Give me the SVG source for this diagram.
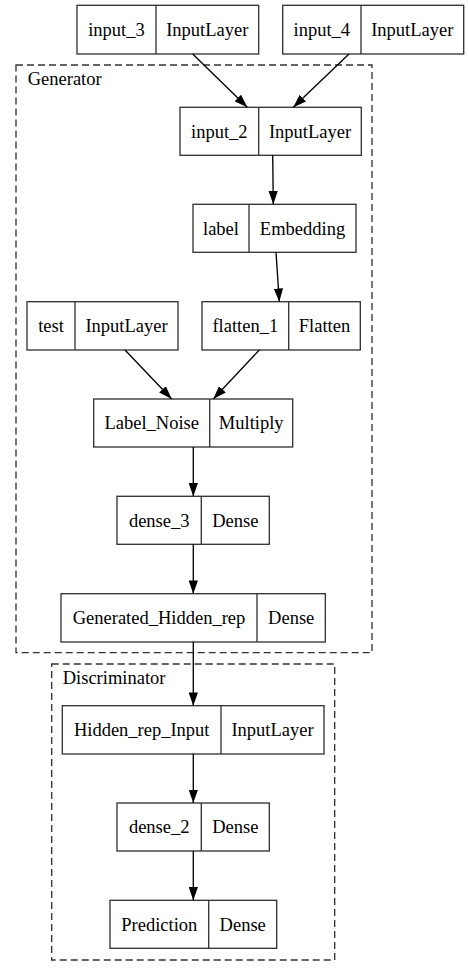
<svg xmlns="http://www.w3.org/2000/svg" width="469" height="976" viewBox="0 0 469 976">
<style>
.box{fill:#fff;stroke:#333;stroke-width:1.33}
.div{stroke:#333;stroke-width:1.33}
.cl{fill:none;stroke:#333;stroke-width:1.33;stroke-dasharray:7,4}
text{font-family:"Liberation Serif","Times New Roman",serif;font-size:18.5px;fill:#000;text-anchor:middle}
.cll{text-anchor:start}
.e{fill:none;stroke:#000;stroke-width:1.33}
</style>
<defs>
<marker id="ah" viewBox="0 0 10 7" refX="10" refY="3.5" markerWidth="13.3" markerHeight="9.3" markerUnits="userSpaceOnUse" orient="auto">
<path d="M0,0 L10,3.5 L0,7 z" fill="#000"/>
</marker>
</defs>
<rect width="469" height="976" fill="#fff"/>
<g id="cluster_generator">
<rect class="cl" x="16" y="65" width="356" height="587.7"/>
<text class="cll" x="27.7" y="85">Generator</text>
</g>
<g id="cluster_discriminator">
<rect class="cl" x="51.7" y="664" width="283" height="296"/>
<text class="cll" x="62.7" y="683.5">Discriminator</text>
</g>
<g id="input_3">
<rect class="box" x="77" y="5.3" width="181.7" height="48.7"/>
<line class="div" x1="156" y1="5.3" x2="156" y2="54"/>
<text x="116.5" y="35.5">input_3</text>
<text x="207.3" y="35.5">InputLayer</text>
</g>
<g id="input_4">
<rect class="box" x="282.7" y="5.3" width="181" height="48.7"/>
<line class="div" x1="361" y1="5.3" x2="361" y2="54"/>
<text x="321.8" y="35.5">input_4</text>
<text x="412.3" y="35.5">InputLayer</text>
</g>
<g id="input_2">
<rect class="box" x="180" y="107.3" width="181.3" height="48"/>
<line class="div" x1="258.7" y1="107.3" x2="258.7" y2="155.3"/>
<text x="219.3" y="137.5">input_2</text>
<text x="310" y="137.5">InputLayer</text>
</g>
<g id="label">
<rect class="box" x="193" y="204.3" width="163" height="48"/>
<line class="div" x1="249" y1="204.3" x2="249" y2="252.3"/>
<text x="221" y="234.5">label</text>
<text x="302.5" y="234.5">Embedding</text>
</g>
<g id="test">
<rect class="box" x="27" y="301.7" width="151" height="48.3"/>
<line class="div" x1="75" y1="301.7" x2="75" y2="350"/>
<text x="51" y="332">test</text>
<text x="126.5" y="332">InputLayer</text>
</g>
<g id="flatten_1">
<rect class="box" x="202" y="301.7" width="158.3" height="48.3"/>
<line class="div" x1="288.7" y1="301.7" x2="288.7" y2="350"/>
<text x="245.3" y="332">flatten_1</text>
<text x="324.5" y="332">Flatten</text>
</g>
<g id="Label_Noise">
<rect class="box" x="93.7" y="399" width="199" height="48"/>
<line class="div" x1="209.7" y1="399" x2="209.7" y2="447"/>
<text x="151.7" y="429.2">Label_Noise</text>
<text x="251.2" y="429.2">Multiply</text>
</g>
<g id="dense_3">
<rect class="box" x="117" y="496.3" width="152.3" height="48"/>
<line class="div" x1="201.3" y1="496.3" x2="201.3" y2="544.3"/>
<text x="159.2" y="526.5">dense_3</text>
<text x="235.3" y="526.5">Dense</text>
</g>
<g id="Generated_Hidden_rep">
<rect class="box" x="61" y="593.7" width="264.3" height="48.3"/>
<line class="div" x1="257" y1="593.7" x2="257" y2="642"/>
<text x="159" y="624">Generated_Hidden_rep</text>
<text x="291.2" y="624">Dense</text>
</g>
<g id="Hidden_rep_Input">
<rect class="box" x="62.3" y="705.7" width="261.7" height="48.3"/>
<line class="div" x1="221" y1="705.7" x2="221" y2="754"/>
<text x="141.7" y="736">Hidden_rep_Input</text>
<text x="272.5" y="736">InputLayer</text>
</g>
<g id="dense_2">
<rect class="box" x="117" y="803" width="152.3" height="48"/>
<line class="div" x1="201.3" y1="803" x2="201.3" y2="851"/>
<text x="159.2" y="833.2">dense_2</text>
<text x="235.3" y="833.2">Dense</text>
</g>
<g id="Prediction">
<rect class="box" x="110" y="900.3" width="166.7" height="48"/>
<line class="div" x1="208.7" y1="900.3" x2="208.7" y2="948.3"/>
<text x="159.3" y="930.5">Prediction</text>
<text x="242.7" y="930.5">Dense</text>
</g>
<g id="connectors">
<path class="e" marker-end="url(#ah)" d="M192.7,54 L247.3,107.3"/>
<path class="e" marker-end="url(#ah)" d="M349,54 L293.3,107.3"/>
<path class="e" marker-end="url(#ah)" d="M272.7,155.3 L273.3,204.3"/>
<path class="e" marker-end="url(#ah)" d="M276,252.3 L279.3,301.7"/>
<path class="e" marker-end="url(#ah)" d="M125,350 L171.7,399"/>
<path class="e" marker-end="url(#ah)" d="M259.3,350 L213.3,399"/>
<path class="e" marker-end="url(#ah)" d="M193.3,447 L193.3,496.3"/>
<path class="e" marker-end="url(#ah)" d="M193.3,544.3 L193.3,593.7"/>
<path class="e" marker-end="url(#ah)" d="M193.3,642 L193.3,705.7"/>
<path class="e" marker-end="url(#ah)" d="M193.3,754 L193.3,803"/>
<path class="e" marker-end="url(#ah)" d="M193.3,851 L193.3,900.3"/>
</g>
</svg>
